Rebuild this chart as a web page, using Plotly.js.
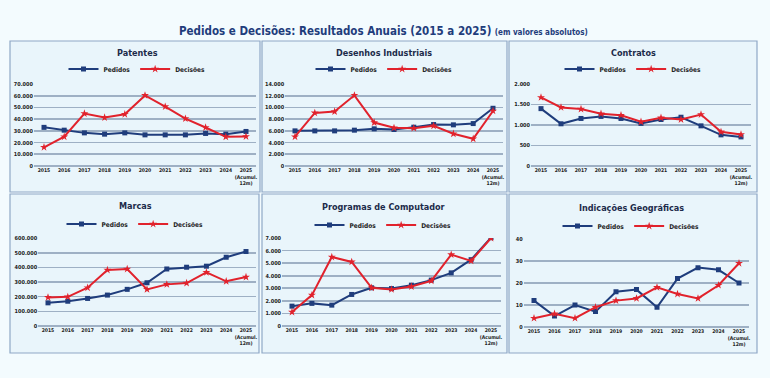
<!DOCTYPE html>
<html><head><meta charset="utf-8">
<script src="https://cdn.plot.ly/plotly-3.0.1.min.js"></script>
<style>html,body{margin:0;padding:0;background:#f3fbfe;}#chart{width:770px;height:378px;}</style>
</head><body><div id="chart"></div>
<script>
// ---- data ----
const years = ['2015','2016','2017','2018','2019','2020','2021','2022','2023','2024','2025<br>(Acumul.<br>12m)'];

const patentesPedidos  = [33000,30600,28300,27200,28300,26600,26600,26600,27800,27200,29500];
const patentesDecisoes = [16000,25000,44800,41400,44200,60300,50700,40500,32900,24900,25200];

const desenhosPedidos  = [6000,6000,6000,6120,6350,6230,6630,7080,7030,7250,9860];
const desenhosDecisoes = [5000,9070,9300,12070,7420,6520,6460,6860,5500,4650,9400];

const contratosPedidos  = [1400,1030,1160,1210,1160,1040,1135,1190,980,760,710];
const contratosDecisoes = [1673,1430,1390,1275,1240,1078,1176,1135,1257,833,767];

const marcasPedidos  = [158000,169000,188000,211000,250000,295000,389000,401000,408000,469000,508000];
const marcasDecisoes = [195000,199000,261000,382000,389000,250000,284000,293000,366000,305000,334000];

const programasPedidos  = [1580,1800,1660,2510,3040,2980,3250,3650,4230,5280,7030];
const programasDecisoes = [1110,2460,5490,5100,3040,2910,3140,3590,5680,5180,7000];

const igPedidos  = [12,5,10,7,16,17,9,22,27,26,20];
const igDecisoes = [4,6,4,9,12,13,18,15,13,19,29];

const seriesNames = ['Pedidos','Decisões'];
const panelTitles = ['Patentes','Desenhos Industriais','Contratos','Marcas','Programas de Computador','Indicações Geográficas'];

// ---- layout geometry (pixels) ----
const W = 770, H = 378;
const px = x => x / W, py = y => 1 - y / H;
const FONT = '"DejaVu Sans Condensed", "Liberation Sans", sans-serif';
const NAVY = '#1f3d7c', RED = '#e1222c', GRID = '#9eb0c4';

const panels = [
  {ped: patentesPedidos,  dec: patentesDecisoes,  box:[10,41,260,192],  x0:44,  x1:246, top:84,  zero:166, max:70000,  dtick:10000,  tx:137, ty:53,  ly:69},
  {ped: desenhosPedidos,  dec: desenhosDecisoes,  box:[262,41,507,192], x0:295, x1:493, top:84,  zero:166, max:14000,  dtick:2000,   tx:384, ty:53,  ly:69},
  {ped: contratosPedidos, dec: contratosDecisoes, box:[509,41,757,192], x0:541, x1:741, top:84,  zero:166, max:2000,   dtick:500,    tx:633, ty:53,  ly:69},
  {ped: marcasPedidos,    dec: marcasDecisoes,    box:[10,194,259,353], x0:48,  x1:246, top:238, zero:326, max:600000, dtick:100000, tx:135, ty:206, ly:224},
  {ped: programasPedidos, dec: programasDecisoes, box:[262,194,507,353],x0:292, x1:491, top:238, zero:326, max:7000,   dtick:1000,   tx:383, ty:207, ly:225},
  {ped: igPedidos,        dec: igDecisoes,        box:[509,194,757,353],x0:534, x1:739, top:239, zero:327, max:40,     dtick:10,     tx:631, ty:208, ly:226}
];

const data = [];
const layout = {
  width: W, height: H,
  margin: {l:0, r:0, t:0, b:0},
  paper_bgcolor: '#f3fbfe',
  plot_bgcolor: 'rgba(0,0,0,0)',
  separators: ',.',
  showlegend: true,
  font: {family: FONT, color: '#222'},
  shapes: [], annotations: []
};

layout.annotations.push({
  xref:'paper', yref:'paper', x: px(383), y: py(31), xanchor:'center', yanchor:'middle', showarrow:false,
  text:'<b>Pedidos e Decisões: Resultados Anuais (2015 a 2025)</b> <b><span style="font-size:8px">(em valores absolutos)</span></b>',
  font:{family: FONT, size:11.5, color: NAVY}
});

panels.forEach((p, k) => {
  const i = k + 1;
  const sx = i === 1 ? '' : String(i);
  const u = (p.x1 - p.x0) / 10;
  const d0 = p.x0 - u / 2, d1 = p.x1 + u / 2;

  layout.shapes.push({type:'rect', xref:'paper', yref:'paper', layer:'below',
    x0: px(p.box[0]), x1: px(p.box[2]), y0: py(p.box[3]), y1: py(p.box[1]),
    fillcolor:'#e9f5fb', line:{color:'#8fa8c6', width:1.2}});

  layout['xaxis' + sx] = {
    domain:[px(d0), px(d1)], anchor:'y' + i, type:'category', range:[-0.5, 10.5],
    showgrid:false, zeroline:false, showline:false, ticks:'',
    tickfont:{size:5, weight:'bold', color:'#222', family: FONT}, tickangle:0, fixedrange:true
  };
  layout['yaxis' + sx] = {
    domain:[py(p.zero), py(p.top)], anchor:'x' + i, range:[0, p.max * 1.0005], dtick:p.dtick, tick0:0,
    tickformat:',d', showgrid:true, gridcolor:GRID, gridwidth:1.6, zeroline:true, zerolinecolor:GRID, zerolinewidth:1.6,
    showline:false, ticks:'', tickfont:{size:5.5, weight:'bold', color:'#222', family: FONT}, fixedrange:true
  };

  layout.annotations.push({xref:'paper', yref:'paper', x:px(p.tx), y:py(p.ty), xanchor:'center', yanchor:'middle',
    showarrow:false, text:'<b>' + panelTitles[k] + '</b>', font:{family: FONT, size:9, color:'#1c2b4a'}});

  layout['legend' + sx] = {x:px(p.tx), y:py(p.ly), xanchor:'center', yanchor:'middle', orientation:'h',
    bgcolor:'rgba(0,0,0,0)', font:{size:6.5, weight:'bold', color:'#222', family: FONT}, itemwidth:30, tracegroupgap:0};

  data.push({x: years, y: p.ped, xaxis:'x' + i, yaxis:'y' + i, legend:'legend' + sx, name: seriesNames[0],
    type:'scatter', mode:'lines+markers', line:{color:NAVY, width:2}, marker:{symbol:'square', size:5, color:NAVY}});
  data.push({x: years, y: p.dec, xaxis:'x' + i, yaxis:'y' + i, legend:'legend' + sx, name: seriesNames[1],
    type:'scatter', mode:'lines+markers', line:{color:RED, width:2}, marker:{symbol:'star', size:6, color:RED}});
});

Plotly.newPlot('chart', data, layout, {staticPlot:true, displayModeBar:false});
</script>
</body></html>
